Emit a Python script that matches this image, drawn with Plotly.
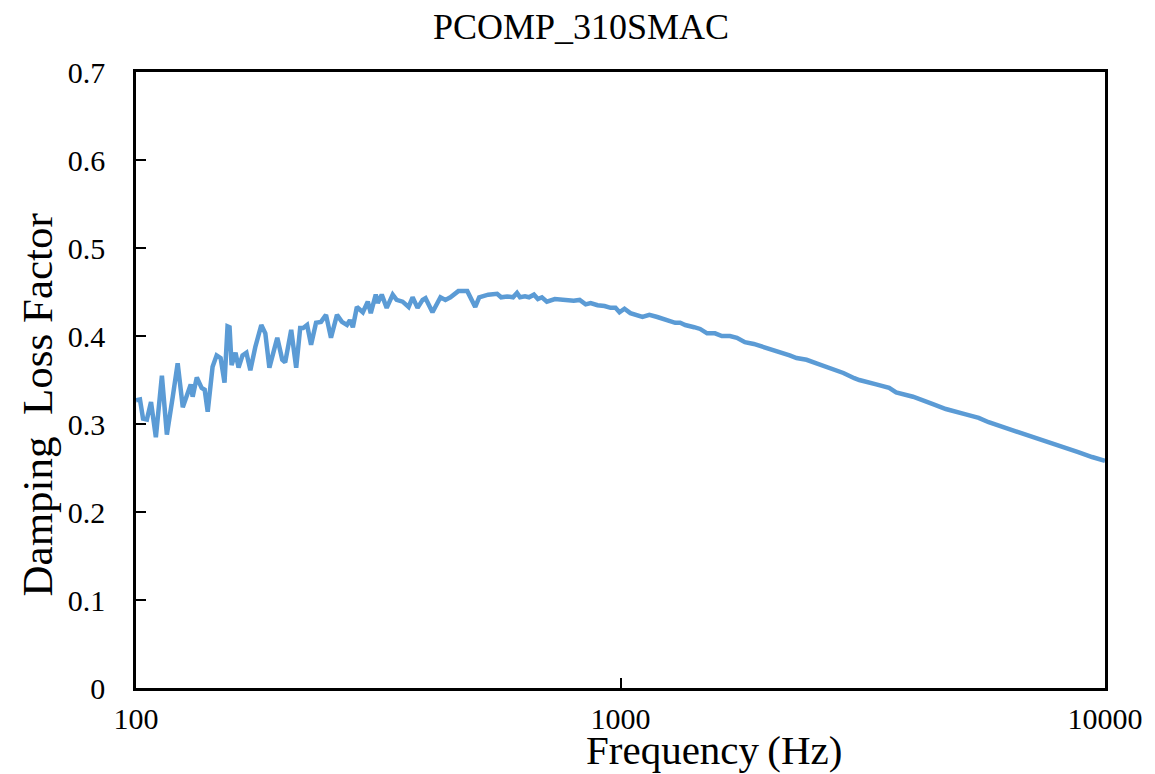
import plotly.graph_objects as go

# Damping loss factor measured across the frequency sweep
freq_hz = [
    100, 101.9, 103.4, 105.3, 107.4, 109.9, 113.1, 115.8, 119.1, 121.9,
    124.9, 127.9, 129.7, 130.9, 133.5, 136.6, 138.6, 140.6, 143.9, 146.7,
    149.5, 152.3, 154.5, 156.0, 157.5, 160.5, 162.8, 165.9, 169.0, 172.2,
    176.3, 181.4, 184.9, 188.5, 195.7, 200.4, 203.2, 209.1, 214.1, 218.2,
    221.3, 225.5, 229.8, 235.3, 240.9, 246.7, 252.6, 259.9, 266.1, 272.5,
    276.4, 280.3, 285.7, 293.9, 300.9, 305.2, 312.5, 315.5, 321.5, 329.2,
    338.7, 345.1, 355.0, 365.3, 372.3, 381.2, 390.4, 395.9, 409.2, 425.0,
    435.1, 445.6, 462.7, 482.8, 492.0, 501.4, 510.9, 533.2, 556.4, 567.0,
    583.3, 600.1, 611.5, 620.3, 635.2, 647.3, 662.8, 675.4, 688.3, 704.7,
    731.9, 760.1, 781.9, 800.6, 823.6, 847.3, 867.6, 896.8, 927.0, 954.0,
    976.6, 995.2, 1019, 1048, 1110, 1147, 1191, 1237, 1297, 1328,
    1360, 1419, 1460, 1509, 1567, 1619, 1682, 1739, 1806, 1884,
    1975, 2032, 2172, 2234, 2309, 2421, 2538, 2699, 2884, 3038,
    3111, 3371, 3585, 3706, 4015, 4414, 4694, 5159, 5487, 5753,
    6442, 7081, 7530, 8279, 8803, 9404, 10000,
]
loss_factor = [
    0.327, 0.328, 0.306, 0.305, 0.325, 0.285, 0.355, 0.288, 0.331, 0.369,
    0.319, 0.335, 0.345, 0.331, 0.353, 0.341, 0.339, 0.314, 0.365, 0.378,
    0.375, 0.347, 0.411, 0.410, 0.367, 0.381, 0.364, 0.378, 0.381, 0.361,
    0.3875, 0.4125, 0.403, 0.364, 0.398, 0.373, 0.370, 0.407, 0.364, 0.409,
    0.409, 0.4125, 0.390, 0.415, 0.416, 0.424, 0.398, 0.424, 0.416, 0.4125,
    0.418, 0.410, 0.433, 0.427, 0.439, 0.426, 0.447, 0.4375, 0.447, 0.432,
    0.447, 0.441, 0.439, 0.433, 0.444, 0.432, 0.441, 0.443, 0.427, 0.444,
    0.441, 0.444, 0.451, 0.451, 0.443, 0.433, 0.444, 0.447, 0.448, 0.444,
    0.445, 0.444, 0.449, 0.444, 0.445, 0.444, 0.447, 0.442, 0.444, 0.439,
    0.442, 0.441, 0.441, 0.440, 0.441, 0.436, 0.4375, 0.435, 0.434, 0.432,
    0.432, 0.427, 0.431, 0.426, 0.4216, 0.424, 0.4216, 0.419, 0.415, 0.415,
    0.4125, 0.410, 0.408, 0.403, 0.403, 0.400, 0.400, 0.398, 0.393, 0.391,
    0.3875, 0.385, 0.381, 0.378, 0.375, 0.373, 0.369, 0.364, 0.358, 0.352,
    0.350, 0.345, 0.341, 0.336, 0.331, 0.3227, 0.317, 0.311, 0.307, 0.302,
    0.293, 0.286, 0.281, 0.274, 0.268, 0.2625, 0.258,
]

x_ticks = [100, 1000, 10000]
x_tick_text = ["100", "1000", "10000"]
y_ticks = [0, 0.1, 0.2, 0.3, 0.4, 0.5, 0.6, 0.7]
y_tick_text = ["0", "0.1", "0.2", "0.3", "0.4", "0.5", "0.6", "0.7"]

FONT = "Liberation Serif, Times New Roman, serif"

# page and plot-area geometry (pixels)
W, H = 1155, 774
ML, MR, MT, MB = 136, 45, 72, 86
PW, PH = W - ML - MR, H - MT - MB


def paper_xy(x, y):
    """Convert a pixel position on the page into paper coordinates."""
    return (x - ML) / PW, (H - MB - y) / PH


fig = go.Figure(
    go.Scatter(
        x=freq_hz,
        y=loss_factor,
        mode="lines",
        line=dict(color="#5B9BD5", width=4.5),
        showlegend=False,
    )
)

tx, ty = paper_xy(583, 27)
fx, fy = paper_xy(717, 750)
dx, dy = paper_xy(36, 405)

fig.update_layout(
    width=W,
    height=H,
    margin=dict(l=ML, r=MR, t=MT, b=MB),
    paper_bgcolor="white",
    plot_bgcolor="white",
    font=dict(family=FONT, color="black", size=30),
    annotations=[
        dict(text="PCOMP_310SMAC", x=tx, y=ty, xref="paper", yref="paper",
             xanchor="center", yanchor="middle", showarrow=False,
             font=dict(size=36)),
        dict(text="Frequency\u2009(Hz)", x=fx, y=fy, xref="paper", yref="paper",
             xanchor="center", yanchor="middle", showarrow=False,
             font=dict(size=41)),
        dict(text="Damping\u00a0\u00a0Loss Factor", x=dx, y=dy, xref="paper",
             yref="paper", xanchor="center", yanchor="middle", showarrow=False,
             textangle=-90, font=dict(size=43)),
    ],
)

fig.update_xaxes(
    type="log",
    range=[2, 4],
    tickvals=x_ticks,
    ticktext=x_tick_text,
    ticks="inside",
    ticklen=10,
    tickwidth=1.5,
    tickcolor="black",
    showline=True,
    linecolor="black",
    linewidth=2.5,
    mirror=True,
    showgrid=False,
    zeroline=False,
    ticklabelstandoff=2,
)
fig.update_yaxes(
    range=[0, 0.7],
    tickvals=y_ticks,
    ticktext=y_tick_text,
    ticks="inside",
    ticklen=10,
    tickwidth=1.5,
    tickcolor="black",
    showline=True,
    linecolor="black",
    linewidth=2.5,
    mirror=True,
    showgrid=False,
    zeroline=False,
    ticklabelstandoff=22,
)

fig.write_html("out.html")
